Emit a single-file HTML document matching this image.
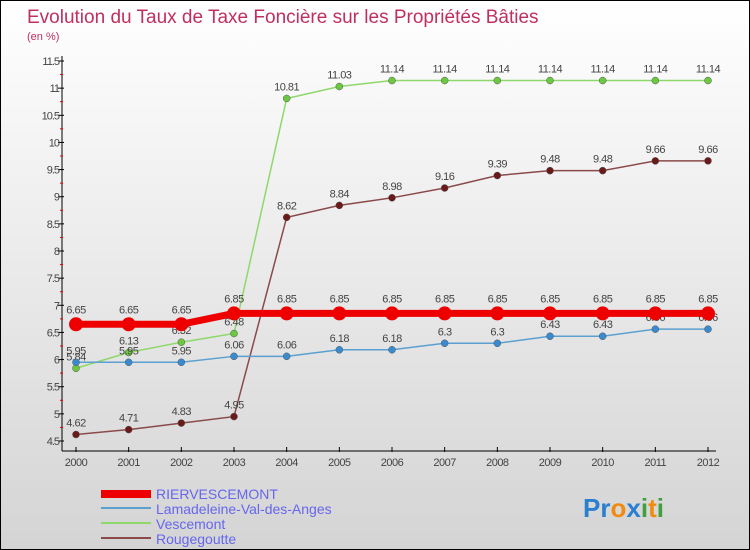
<!DOCTYPE html>
<html><head><meta charset="utf-8"><style>
body{margin:0}
#c{position:relative;width:748px;height:548px;border:1px solid #000;background:linear-gradient(#fff,#d4d4d4);font-family:"Liberation Sans",sans-serif;overflow:hidden}
</style></head><body>
<div id="c">
<svg width="748" height="548" style="position:absolute;left:0;top:0" id="svg">
<text x="26" y="22" font-size="19" fill="#c0305e">Evolution du Taux de Taxe Foncière sur les Propriétés Bâties</text>
<text x="26" y="39" font-size="11" fill="#c0305e">(en %)</text>
<g id="g"></g>
<g>
<rect x="100" y="489" width="50" height="8" fill="#e00"/>
<text x="155" y="498" font-size="14" fill="#6666ee">RIERVESCEMONT</text>
<line x1="100" y1="507" x2="150" y2="507" stroke="#5aa0d0" stroke-width="2"/>
<text x="155" y="513" font-size="14" fill="#6666ee">Lamadeleine-Val-des-Anges</text>
<line x1="100" y1="522" x2="150" y2="522" stroke="#8ed86a" stroke-width="2"/>
<text x="155" y="528" font-size="14" fill="#6666ee">Vescemont</text>
<line x1="100" y1="537" x2="150" y2="537" stroke="#8a4a4a" stroke-width="2"/>
<text x="155" y="543" font-size="14" fill="#6666ee">Rougegoutte</text>
</g>
<text x="582" y="516" font-size="26" font-weight="bold"><tspan fill="#2a7fd0">Pr</tspan><tspan fill="#f08a10">o</tspan><tspan fill="#2a7fd0">x</tspan><tspan fill="#40a040">i</tspan><tspan fill="#f08a10">t</tspan><tspan fill="#40a040">i</tspan></text>
</svg>
</div>
<script>
const years=[2000,2001,2002,2003,2004,2005,2006,2007,2008,2009,2010,2011,2012];
const rier=[6.65,6.65,6.65,6.85,6.85,6.85,6.85,6.85,6.85,6.85,6.85,6.85,6.85];
const lama=[5.95,5.95,5.95,6.06,6.06,6.18,6.18,6.3,6.3,6.43,6.43,6.56,6.56];
const vesc=[5.84,6.13,6.32,6.48,10.81,11.03,11.14,11.14,11.14,11.14,11.14,11.14,11.14];
const roug=[4.62,4.71,4.83,4.95,8.62,8.84,8.98,9.16,9.39,9.48,9.48,9.66,9.66];
const yTicks=[4.5,5,5.5,6,6.5,7,7.5,8,8.5,9,9.5,10,10.5,11,11.5];
const NS="http://www.w3.org/2000/svg";
const g=document.getElementById('g');
const X=i=>75+i*(707-75)/(years.length-1);
const Y=v=>440-(v-4.5)*(380/7);
function mk(t,a){const e=document.createElementNS(NS,t);for(const k in a)e.setAttribute(k,a[k]);g.appendChild(e);return e;}
let e=mk('line',{x1:61,y1:55,x2:61,y2:450,stroke:'#000'});


e=mk('line',{x1:61,y1:450,x2:715,y2:450,stroke:'#000'});


yTicks.forEach(v=>{
 e=mk('line',{x1:57,y1:Y(v),x2:63,y2:Y(v),stroke:'#000'});
 
 
 if(v<11.5){e=mk('line',{x1:59,y1:Y(v+0.25),x2:62,y2:Y(v+0.25),stroke:'#e00'});
 
 }
 e=mk('text',{x:58,y:Y(v)+4,'font-size':11,fill:'#444','text-anchor':'end','letter-spacing':'-1'});
 e.textContent=String(v);
 
 
});
years.forEach((y,i)=>{
 e=mk('line',{x1:X(i),y1:446,x2:X(i),y2:451,stroke:'#000'});
 
 
 e=mk('text',{x:X(i),y:465,'font-size':11,fill:'#444','text-anchor':'middle','letter-spacing':'-0.5'});
 e.textContent=y;
 
 
});
function series(d,col,w,r,name,dot){
 e=mk('polyline',{points:d.map((v,i)=>X(i)+','+Y(v)).join(' '),fill:'none',stroke:col,'stroke-width':w});
 
 
 d.forEach((v,i)=>{
  e=mk('circle',{cx:X(i),cy:Y(v),r:r,fill:dot,stroke:r>5?'none':'#555','stroke-width':0.5});
  
  
  e=mk('text',{x:X(i),y:Y(v)-(r>5?11:8),'font-size':11,fill:'#444','text-anchor':'middle','letter-spacing':'-0.5'});
  e.textContent=String(v);
  
  
 });
}
series(roug,'#8a4a4a',1.5,3.5,'rougegoutte','#6b1a1a');
series(vesc,'#8ed86a',1.5,3.5,'vescemont','#6cc840');
series(lama,'#5aa0d0',1.5,3.5,'lamadeleine','#3a8ad0');
series(rier,'#ee0000',7,7,'riervescemont','#ee0000');
</script>
</body></html>
